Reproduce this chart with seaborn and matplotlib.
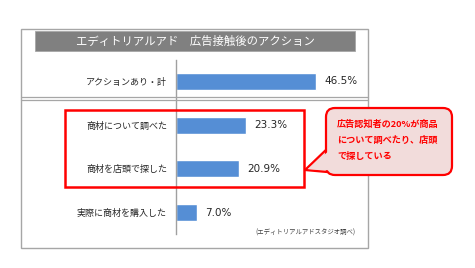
import seaborn as sns
import matplotlib.pyplot as plt
from matplotlib.patches import Rectangle, FancyBboxPatch, Polygon

# data
categories = ['アクションあり・計', '商材について調べた', '商材を店頭で探した', '実際に商材を購入した']
values = [46.5, 23.3, 20.9, 7.0]
title = 'エディトリアルアド　広告接触後のアクション'
note_lines = ['広告認知者の20%が商品', 'について調べたり、店頭', 'で探している']
source = '(エディトリアルアドスタジオ調べ)'

sns.set_style('white')
plt.rcParams['font.family'] = ['Noto Sans CJK JP', 'DejaVu Sans']

W, H = 475, 268
fig = plt.figure(figsize=(W / 100, H / 100), dpi=100)


def fx(x):
    return x / W


def fy(y):
    return 1 - y / H


# bar axes: zero line at x=176px, 3.01 px per percent
ax = fig.add_axes([fx(176), fy(234), fx(368 - 176), fy(60) - fy(234)])
ax.patch.set_alpha(0)
sns.barplot(x=values, y=categories, orient='h', color='#558ed5',
            saturation=1, width=0.39, ax=ax)
ax.set_xlim(0, (368 - 176) / 3.01)
ax.set_ylim(3.49, -0.49)
ax.set_xlabel('')
ax.set_ylabel('')
ax.set_xticks([])
for s in ['top', 'right', 'bottom']:
    ax.spines[s].set_visible(False)
ax.spines['left'].set_color('#a0a0a0')
ax.spines['left'].set_linewidth(1)
ax.tick_params(axis='y', length=0, pad=6.5, labelsize=6.5, labelcolor='#262626')
ax.bar_label(ax.containers[0], fmt='%.1f%%', padding=6, fontsize=7.5,
             color='#262626', family='DejaVu Sans')

# overlay in pixel coordinates for the frame, title and callout
ov = fig.add_axes([0, 0, 1, 1], zorder=5)
ov.set_xlim(0, W)
ov.set_ylim(H, 0)
ov.axis('off')
ov.patch.set_alpha(0)

ov.add_patch(Rectangle((21, 29), 347, 219, fill=False, ec='#a6a6a6', lw=1))
ov.add_patch(Rectangle((35, 31), 320, 19.5, fc='#808080', ec='#a6a6a6', lw=0.6))
ov.text(195, 41, title, color='white', fontsize=8.2, ha='center', va='center')
ov.plot([21, 368], [97.3, 97.3], color='#a6a6a6', lw=0.9)
ov.plot([21, 368], [100.3, 100.3], color='#a6a6a6', lw=0.9)

# red highlight box
ov.add_patch(Rectangle((64.5, 109.5), 239.5, 77, fill=False, ec='#ff0000', lw=1.8))

# callout
ov.add_patch(Polygon([(329, 147), (305, 170), (338, 173)], closed=True,
                     fc='#f2dcdb', ec='#ff0000', lw=1.6, zorder=2))
ov.add_patch(FancyBboxPatch((326, 108), 126, 67,
                            boxstyle='round,pad=0,rounding_size=9',
                            fc='#f2dcdb', ec='#ff0000', lw=1.6, zorder=3))
ov.add_patch(Polygon([(331, 149), (308, 169), (340, 171)], closed=True,
                     fc='#f2dcdb', ec='none', zorder=4))
for i, line in enumerate(note_lines):
    ov.text(337, 124 + i * 16.5, line, color='#ff0000', fontsize=6.6,
            fontweight='bold', ha='left', va='center', zorder=5)

ov.text(355, 233, source, color='#404040', fontsize=4.6, ha='right', va='center')

fig.savefig('out.png', dpi=100)
